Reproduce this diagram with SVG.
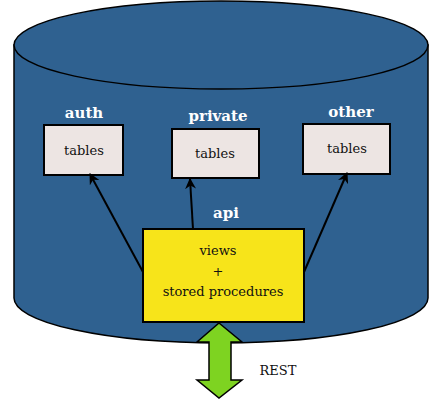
<svg xmlns="http://www.w3.org/2000/svg" width="429" height="400" viewBox="0 0 429 400">
<style>
.lbl{font-family:'DejaVu Serif','Liberation Serif',serif;font-weight:bold;font-size:15px;fill:#fff;text-anchor:middle}
.txt{font-family:'DejaVu Serif','Liberation Serif',serif;font-size:13px;fill:#111;text-anchor:middle}
.tbl{fill:#ede5e3;stroke:#000;stroke-width:2}
.conn{stroke:#000;stroke-width:2;fill:none;marker-end:url(#ah)}
</style>
<defs>
<marker id="ah" viewBox="0 0 10 10" refX="9" refY="5" markerWidth="5.5" markerHeight="5.5" orient="auto" markerUnits="strokeWidth">
<path d="M0,0 L10,5 L0,10 L3,5 Z" fill="#000"/>
</marker>
</defs>
<g id="db">
<path d="M14,45 L14,298 A207,45 0 0 0 428,298 L428,45 Z" fill="#2f6190" stroke="#000" stroke-width="1.5"/>
<ellipse cx="221" cy="45" rx="207" ry="44" fill="#2f6190" stroke="#000" stroke-width="1.5"/>
</g>
<g id="auth">
<text class="lbl" x="84" y="118">auth</text>
<rect class="tbl" x="44" y="125" width="79" height="50"/>
<text class="txt" x="84" y="155">tables</text>
</g>
<g id="private">
<text class="lbl" x="218" y="121">private</text>
<rect class="tbl" x="172" y="129" width="87" height="49"/>
<text class="txt" x="215" y="158">tables</text>
</g>
<g id="other">
<text class="lbl" x="351" y="117">other</text>
<rect class="tbl" x="303" y="124" width="87" height="50"/>
<text class="txt" x="347" y="153">tables</text>
</g>
<g id="connectors">
<path class="conn" d="M143,272 L90,174"/>
<path class="conn" d="M193,229 L190,179"/>
<path class="conn" d="M304,272 L347,173"/>
</g>
<g id="api">
<text class="lbl" x="226" y="218">api</text>
<rect x="143" y="229" width="161" height="93" fill="#f7e41a" stroke="#000" stroke-width="2"/>
<text class="txt" x="218" y="255">views</text>
<text class="txt" x="218" y="276">+</text>
<text class="txt" x="223" y="296">stored procedures</text>
</g>
<g id="rest">
<path d="M219,323 L242,342 L231,342 L231,380 L242,380 L219,398 L197,380 L209,380 L209,342 L197,342 Z" fill="#7ed321" stroke="#000" stroke-width="1.5"/>
<text class="txt" x="278" y="375">REST</text>
</g>
</svg>
